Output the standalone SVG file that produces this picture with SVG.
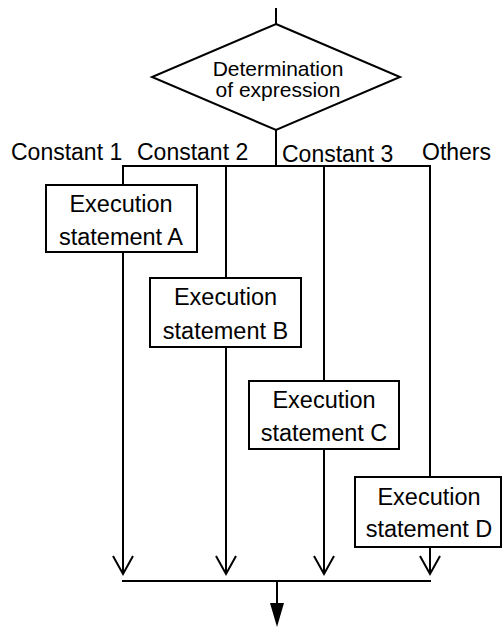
<svg xmlns="http://www.w3.org/2000/svg" width="502" height="627" viewBox="0 0 502 627">
  <style>
    .ln { fill: none; stroke: #000; stroke-width: 2; }
    .box { fill: #fff; stroke: #000; stroke-width: 2; }
    .t { font-family: "Liberation Sans", Arial, sans-serif; fill: #000; }
    .lbl { font-size: 23px; }
    .bt { font-size: 23.5px; text-anchor: middle; }
    .dt { font-size: 21px; text-anchor: middle; }
  </style>
  <defs>
    <!-- open V arrowhead, drawn pointing along +x -->
    <marker id="open" markerUnits="userSpaceOnUse" markerWidth="22" markerHeight="24" refX="19" refY="11" orient="auto" viewBox="0 0 22 22">
      <path d="M1,1 L19,11 L1,21" fill="none" stroke="#000" stroke-width="2"/>
    </marker>
  </defs>

  <!-- connectors -->
  <g id="connectors">
    <line class="ln" x1="276" y1="8" x2="276" y2="24"/>
    <line class="ln" x1="276" y1="130" x2="276" y2="166"/>
    <line class="ln" x1="122" y1="166" x2="431" y2="166"/>
    <!-- branch 1 -->
    <line class="ln" x1="123" y1="166" x2="123" y2="185"/>
    <line class="ln" x1="123" y1="252" x2="123" y2="574" marker-end="url(#open)"/>
    <!-- branch 2 -->
    <line class="ln" x1="226" y1="166" x2="226" y2="278"/>
    <line class="ln" x1="226" y1="347" x2="226" y2="574" marker-end="url(#open)"/>
    <!-- branch 3 -->
    <line class="ln" x1="324" y1="166" x2="324" y2="381"/>
    <line class="ln" x1="324" y1="449" x2="324" y2="574" marker-end="url(#open)"/>
    <!-- branch 4 -->
    <line class="ln" x1="430" y1="166" x2="430" y2="477"/>
    <line class="ln" x1="430" y1="547" x2="430" y2="574" marker-end="url(#open)"/>
    <!-- merge -->
    <line class="ln" x1="122" y1="581" x2="431" y2="581"/>
    <line class="ln" x1="277" y1="581" x2="277" y2="604"/>
    <polygon points="270,603 284,603 277,627" fill="#000"/>
  </g>

  <!-- case labels -->
  <g id="labels">
    <text class="t lbl" x="11" y="160">Constant 1</text>
    <text class="t lbl" x="137" y="160">Constant 2</text>
    <text class="t lbl" x="282" y="162">Constant 3</text>
    <text class="t lbl" x="422" y="160">Others</text>
  </g>

  <g id="decision">
    <polygon class="box" points="276,24 400,77 276,130 152,77"/>
    <text class="t dt" x="278" y="76">Determination</text>
    <text class="t dt" x="278" y="97">of expression</text>
  </g>

  <g id="stmtA">
    <rect class="box" x="46" y="185" width="151" height="67"/>
    <text class="t bt" x="121" y="212">Execution</text>
    <text class="t bt" x="121" y="245">statement A</text>
  </g>

  <g id="stmtB">
    <rect class="box" x="150" y="278" width="151" height="69"/>
    <text class="t bt" x="225.5" y="305">Execution</text>
    <text class="t bt" x="225.5" y="339">statement B</text>
  </g>

  <g id="stmtC">
    <rect class="box" x="249" y="381" width="150" height="68"/>
    <text class="t bt" x="324" y="408">Execution</text>
    <text class="t bt" x="324" y="441">statement C</text>
  </g>

  <g id="stmtD">
    <rect class="box" x="355" y="477" width="146" height="70"/>
    <text class="t bt" x="429" y="505">Execution</text>
    <text class="t bt" x="429" y="537">statement D</text>
  </g>
</svg>
